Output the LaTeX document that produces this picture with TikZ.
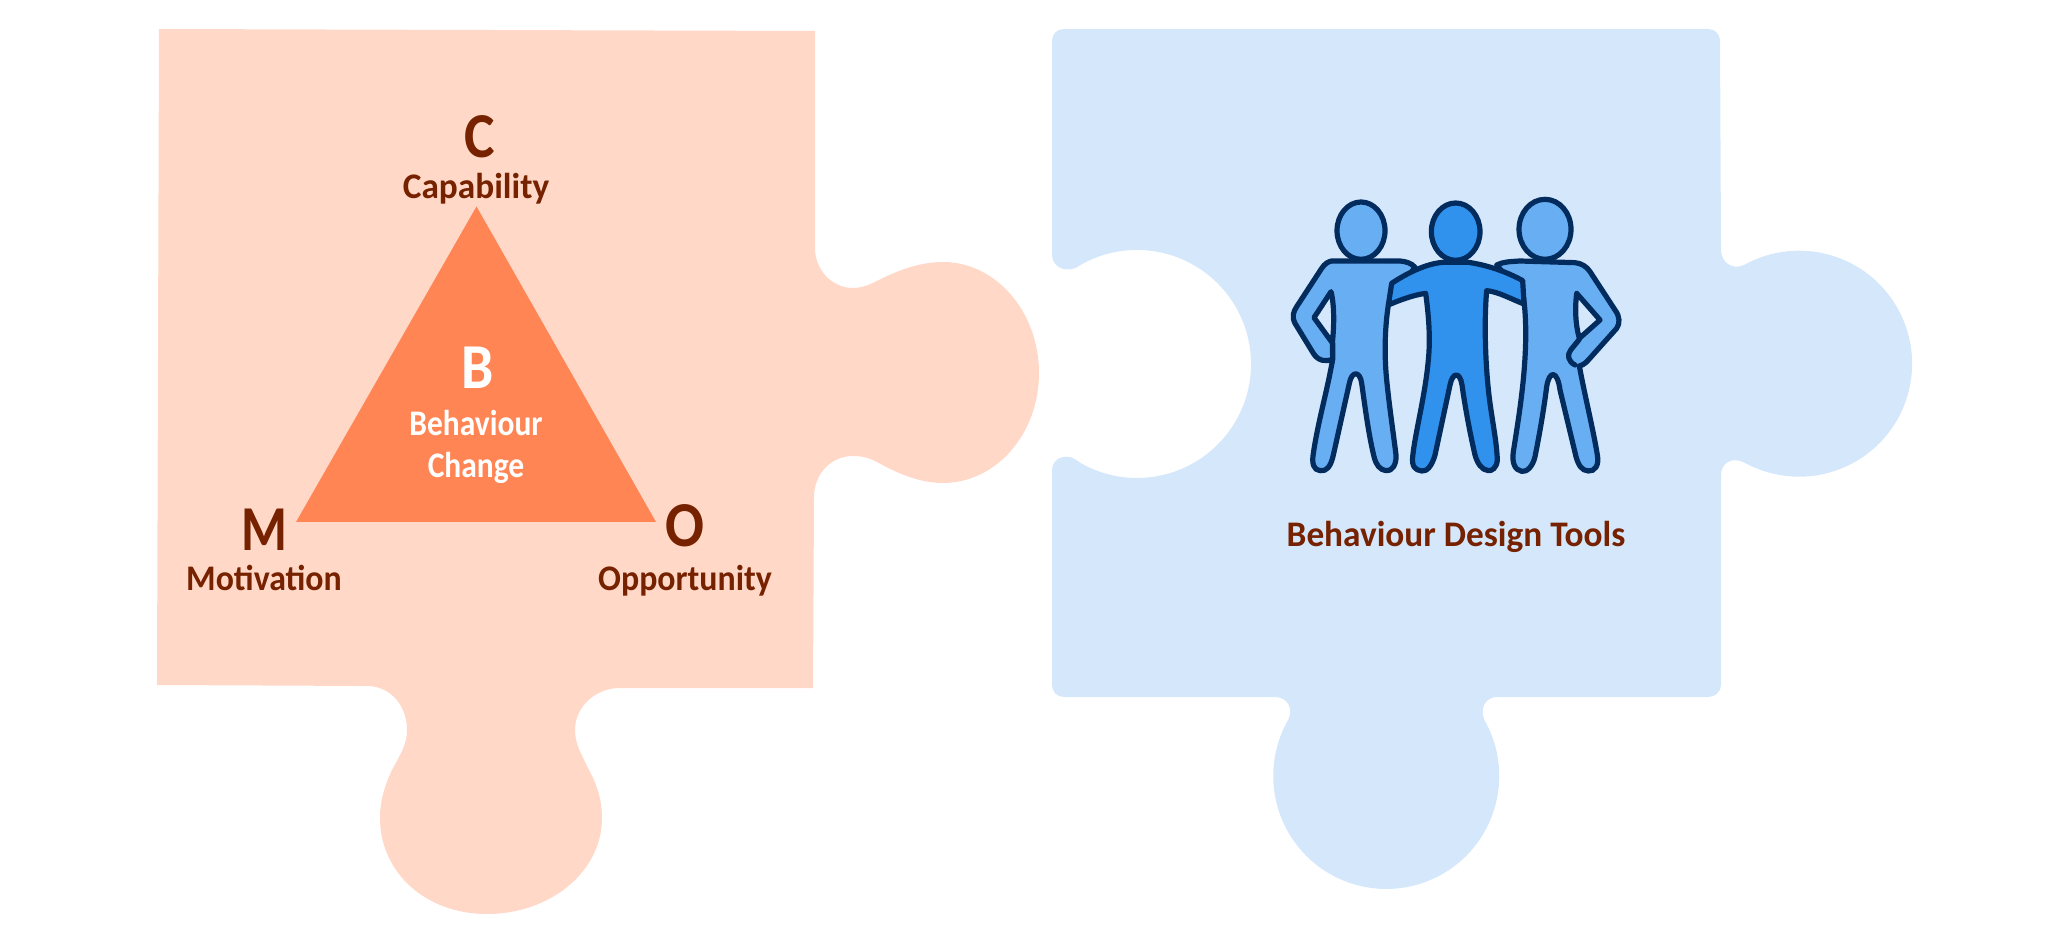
\documentclass[tikz,border=0pt]{standalone}
\usepackage{fontspec}
\setmainfont{Carlito}
\newfontfamily\capsfont[FakeStretch=0.90]{Carlito}
\newfontfamily\capsnarrow[FakeStretch=0.82]{Carlito}
\newfontfamily\labelfont[FakeStretch=0.98]{Carlito}
\newfontfamily\labelnarrow[FakeStretch=0.94]{Carlito}
\newfontfamily\whitefont[FakeStretch=0.875]{Carlito}
\definecolor{peach}{HTML}{FFD8C7}
\definecolor{tri}{HTML}{FF8555}
\definecolor{brown}{HTML}{762100}
\definecolor{sky}{HTML}{D5E7FB}
\definecolor{lightfig}{HTML}{68AEF3}
\definecolor{midfig}{HTML}{3192EE}
\definecolor{figline}{HTML}{022B5E}
\tikzset{
  big/.style={anchor=base,inner sep=0pt,font=\fontsize{32}{34}\selectfont\capsfont\bfseries},
  bigm/.style={anchor=base,inner sep=0pt,font=\fontsize{32}{34}\selectfont\capsnarrow\bfseries},
  small/.style={anchor=base,inner sep=0pt,font=\fontsize{18}{20}\selectfont\labelfont\bfseries},
  smalln/.style={anchor=base,inner sep=0pt,font=\fontsize{18}{20}\selectfont\labelnarrow\bfseries},
  smallw/.style={anchor=base,inner sep=0pt,font=\fontsize{18}{20}\selectfont\whitefont\bfseries},
  inbrown/.style={text=brown},
  inwhite/.style={text=white},
  figshape/.style={draw=figline,line width=2.6pt,line join=round,line cap=round},
}
\begin{document}
\begin{tikzpicture}[x=0.5pt,y=0.5pt,yscale=-1]
\useasboundingbox (0,0) rectangle (2048,929);
% orange piece
\fill[peach] (159,29) -- (815,31) -- (815,248)
  .. controls (815,270) and (832,288) .. (853,288)
  .. controls (860,288) and (866,286) .. (873,283)
  .. controls (885,277) and (912,262) .. (943,262)
  .. controls (996,262) and (1039,312) .. (1039,373)
  .. controls (1039,434) and (996,483) .. (943,483)
  .. controls (912,483) and (885,466) .. (873,460)
  .. controls (866,457) and (860,456) .. (853,456)
  .. controls (830,456) and (814,475) .. (814,497)
  -- (813,688) -- (620,688)
  .. controls (595,688) and (575,707) .. (575,730)
  .. controls (575,745) and (582,755) .. (590,772)
  .. controls (597,785) and (602,800) .. (602,818)
  .. controls (602,872) and (550,914) .. (487,914)
  .. controls (425,914) and (380,872) .. (380,818)
  .. controls (380,800) and (385,785) .. (392,770)
  .. controls (400,755) and (407,745) .. (407,730)
  .. controls (407,705) and (390,686) .. (367,686)
  -- (157,685) -- cycle;
% blue piece
\fill[sky] (1052,41) .. controls (1052,34) and (1057,29) .. (1064,29)
  -- (1708,29) .. controls (1715,29) and (1720,34) .. (1720,41)
  -- (1721,250)
  .. controls (1721,262) and (1732,271) .. (1745,264.5)
  arc[start angle=241.4,end angle=478.6,radius=113]
  .. controls (1732,456) and (1721,463) .. (1721,475)
  -- (1721,685) .. controls (1721,692) and (1715,697) .. (1708,697)
  -- (1497,697)
  .. controls (1485,697) and (1478,710) .. (1486,722.9)
  arc[start angle=-28,end angle=208,radius=113]
  .. controls (1295,710) and (1288,697) .. (1275,697)
  -- (1064,697) .. controls (1057,697) and (1052,692) .. (1052,685)
  -- (1052,470)
  .. controls (1052,458) and (1067,451) .. (1080,462.7)
  arc[start angle=120,end angle=-120,radius=114]
  .. controls (1067,275) and (1052,267) .. (1052,255)
  -- cycle;
% triangle
\fill[tri] (476.5,206.5) -- (656,522) -- (296,522) -- cycle;
% triangle labels
\node[big,inbrown] (c) at (480,158) {C};
\node[small,inbrown] (capability) at (476,199) {Capability};
\node[big,inwhite] (b) at (478,389) {B};
\node[smallw,inwhite] (behaviour) at (476,436) {Behaviour};
\node[smallw,inwhite] (change) at (476,478) {Change};
\node[bigm,inbrown] (m) at (264,551) {M};
\node[smalln,inbrown] (motivation) at (264,590) {Motivation};
\node[big,inbrown] (o) at (684.5,546) {O};
\node[smalln,inbrown] (opportunity) at (685,590) {Opportunity};
\node[small,inbrown] (tools) at (1456,546) {Behaviour Design Tools};
% people
\begin{scope}[shift={(1260,180)},scale=0.33333]
  % left person
  \draw[figshape,fill=lightfig] (303,152) ellipse[x radius=72,y radius=86];
  \draw[figshape,fill=lightfig] (215,243) -- (420,243)
    .. controls (440,245) and (455,250) .. (465,262)
    -- (420,320) -- (385,375)
    .. controls (375,440) and (372,520) .. (380,600)
    .. controls (388,680) and (400,760) .. (408,825)
    .. controls (410,855) and (395,875) .. (378,872)
    .. controls (360,870) and (348,855) .. (342,830)
    .. controls (325,760) and (315,680) .. (305,610)
    .. controls (300,572) and (275,572) .. (268,610)
    -- (220,825)
    .. controls (212,860) and (200,875) .. (180,872)
    .. controls (160,870) and (155,850) .. (160,820)
    .. controls (175,720) and (200,640) .. (218,538)
    .. controls (200,545) and (175,545) .. (160,520)
    -- (105,430)
    .. controls (95,410) and (100,395) .. (110,380)
    -- (185,265)
    .. controls (195,250) and (205,245) .. (215,243) -- cycle;
  \draw[figshape,fill=sky] (213,335) .. controls (224,380) and (222,440) .. (217,490)
    -- (218,538) -- (218,490) -- (162,413) -- cycle;
  % right person
  \draw[figshape,fill=lightfig] (855,148) ellipse[x radius=78,y radius=90];
  \draw[figshape,fill=lightfig] (710,255)
    .. controls (730,245) and (750,245) .. (780,243)
    -- (945,248)
    .. controls (965,250) and (980,260) .. (990,275)
    -- (1065,390)
    .. controls (1080,410) and (1080,430) .. (1070,445)
    -- (985,540)
    .. controls (975,552) and (965,556) .. (958,558)
    .. controls (975,650) and (1000,750) .. (1012,825)
    .. controls (1018,855) and (1005,875) .. (985,873)
    .. controls (965,872) and (955,855) .. (948,830)
    -- (900,630)
    .. controls (892,570) and (868,570) .. (860,620)
    .. controls (850,700) and (835,780) .. (825,830)
    .. controls (818,860) and (800,877) .. (785,874)
    .. controls (765,870) and (755,850) .. (760,815)
    .. controls (775,720) and (795,600) .. (797,480)
    .. controls (798,430) and (795,380) .. (790,350) -- cycle;
  \draw[figshape,fill=sky] (950,340) -- (1020,420) -- (958,475)
    .. controls (945,430) and (945,380) .. cycle;
  \draw[figshape] (958,478) -- (932,510) .. controls (920,525) and (925,545) .. (945,555);
  % middle person
  \draw[figshape,fill=midfig] (587,155) ellipse[x radius=73,y radius=86];
  \draw[figshape,fill=midfig] (395,310) .. controls (440,280) and (500,250) .. (550,247)
    -- (625,247) .. controls (680,255) and (740,275) .. (788,302)
    -- (792,372) .. controls (755,358) and (715,335) .. (680,332)
    .. controls (672,420) and (675,560) .. (690,670)
    .. controls (700,740) and (710,790) .. (712,840)
    .. controls (710,865) and (695,873) .. (685,872)
    .. controls (665,870) and (652,850) .. (645,825)
    .. controls (630,760) and (615,680) .. (606,615)
    .. controls (600,575) and (578,575) .. (570,615)
    -- (525,825) .. controls (515,860) and (500,875) .. (485,873)
    .. controls (465,870) and (455,860) .. (458,830)
    .. controls (465,760) and (495,650) .. (505,540)
    .. controls (512,470) and (505,400) .. (497,340)
    .. controls (460,345) and (420,360) .. (385,375) -- cycle;
\end{scope}
\end{tikzpicture}
\end{document}
